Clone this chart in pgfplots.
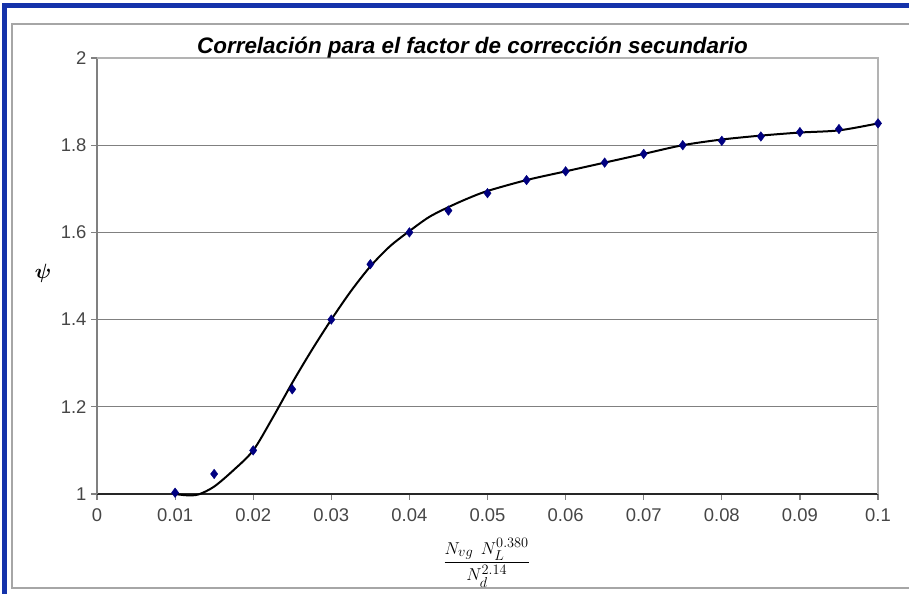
\documentclass[border=0pt]{standalone}
\usepackage{amsmath}
\usepackage{bm}
\usepackage{pgfplots}
\pgfplotsset{compat=1.18}
\usepackage{fontspec}
\setmainfont{Liberation Sans}
\definecolor{navy}{RGB}{0,0,128}
\definecolor{frameblue}{RGB}{20,50,170}
\definecolor{gridgray}{RGB}{128,128,128}
\definecolor{labgray}{RGB}{70,70,70}
\begin{document}
\begin{tikzpicture}[x=1bp,y=1bp]
\useasboundingbox (0,0) rectangle (909,594);
\fill[white] (0,0) rectangle (909,594);
\draw[gridgray!70,line width=1.5bp] (12,6) rectangle (915,570);
\draw[frameblue,line width=5bp] (4.5,-5) -- (4.5,588.5) -- (915,588.5);
\begin{axis}[
  at={(97bp,100bp)}, anchor=origin,
  scale only axis, width=781bp, height=436bp,
  xmin=0, xmax=0.1, ymin=1, ymax=2,
  xtick={0,0.01,...,0.1}, ytick={1,1.2,...,2},
  xticklabels={0,0.01,0.02,0.03,0.04,0.05,0.06,0.07,0.08,0.09,0.1},
  yticklabels={1,1.2,1.4,1.6,1.8,2},
  scaled x ticks=false,
  axis x line*=bottom, axis y line*=left,
  x axis line style={black!85,line width=1.3bp,-},
  y axis line style={gridgray,line width=1.5bp,-},
  ymajorgrids, grid style={gridgray,line width=1.3bp},
  tick align=outside, major tick length=6bp,
  tick style={gridgray,line width=1.2bp},
  clip=false,
  every tick label/.append style={font=\fontsize{18.5}{18.5}\selectfont, text=labgray},
  xticklabel style={yshift=-5bp},
  yticklabel style={xshift=-1bp},
  title={\bfseries\itshape Correlación para el factor de corrección secundario},
  title style={font=\fontsize{22.5}{22.5}\selectfont, yshift=-10bp, xshift=-15bp},
]
\draw[gridgray!60,line width=1.3bp] (axis cs:0,2) -- (axis cs:0.1,2) -- (axis cs:0.1,1);
\addplot[black, line width=2bp, smooth, tension=0.5] coordinates {
(0.010,1.000) (0.0115,0.997) (0.013,0.999) (0.015,1.017) (0.0175,1.055) (0.020,1.100)
(0.0225,1.175) (0.025,1.255) (0.0275,1.330) (0.030,1.400) (0.0325,1.465) (0.035,1.522)
(0.0375,1.568) (0.040,1.603) (0.0425,1.635) (0.045,1.658) (0.0475,1.678) (0.050,1.695)
(0.055,1.720) (0.060,1.740) (0.065,1.760) (0.070,1.780) (0.075,1.800) (0.080,1.813)
(0.085,1.822) (0.090,1.829) (0.095,1.834) (0.100,1.850)};
\addplot[only marks, mark=diamond*, mark size=4.8bp, navy] coordinates {
(0.010,1.003) (0.015,1.046) (0.020,1.100) (0.025,1.240) (0.030,1.400) (0.035,1.527)
(0.040,1.600) (0.045,1.650) (0.050,1.690) (0.055,1.720) (0.060,1.740) (0.065,1.760)
(0.070,1.780) (0.075,1.800) (0.080,1.810) (0.085,1.820) (0.090,1.830) (0.095,1.837)
(0.100,1.850)};
\node at (axis cs:-0.0069,1.505) {\fontsize{22}{22}\selectfont$\bm{\psi}$};
\node at (axis cs:0.0499,0.842) {\fontsize{19}{19}\selectfont$\dfrac{N_{vg}\;\,N_L^{0.380}}{N_d^{2.14}}$};
\end{axis}
\end{tikzpicture}
\end{document}
